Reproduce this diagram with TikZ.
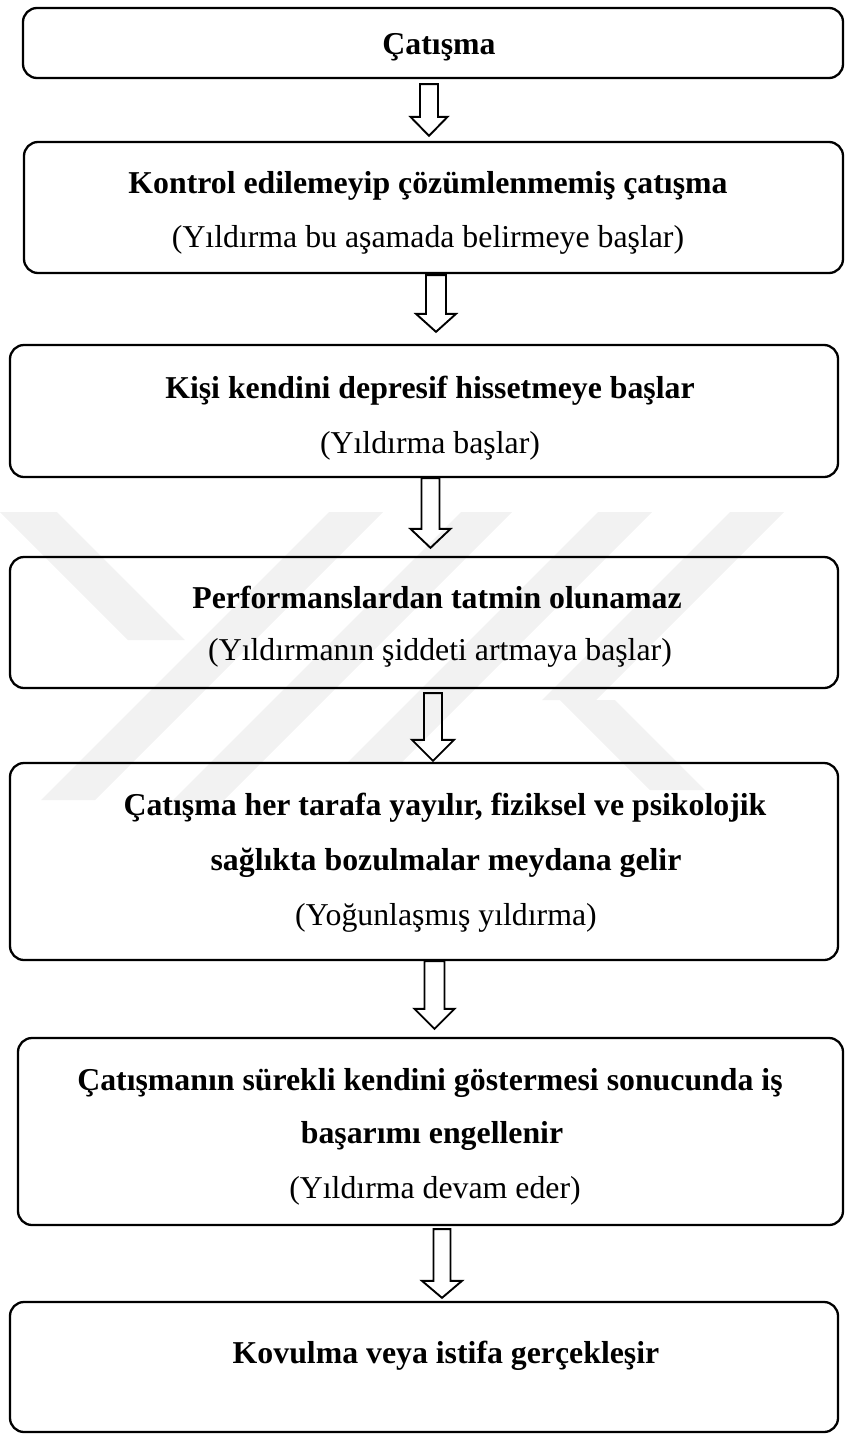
\documentclass[tikz,border=0pt]{standalone}
\usepackage{fontspec}
\setmainfont{Liberation Serif}
\usetikzlibrary{calc}
\tikzset{
  flowbox/.style={draw=black, line width=2.3pt, rounded corners=14pt, inner sep=0pt},
  boldline/.style={anchor=base, inner sep=0pt, font=\fontsize{31.8}{38}\selectfont\bfseries},
  plainline/.style={anchor=base, inner sep=0pt, font=\fontsize{31.8}{38}\selectfont},
  hollowarrow/.style={draw=black, line width=1.9pt, line join=miter},
  wmark/.style={fill=black!5, draw=none}
}
% #1 from node, #2 to node, #3 centre x, #4 gap below #1, #5 gap above #2,
% #6 shaft half width, #7 head half width, #8 head height
\newcommand\flowarrow[8]{%
  \draw[hollowarrow] let \p1=(#1.south), \p2=(#2.north) in
    ({#3pt-#6pt},{\y1-#4pt}) -- ({#3pt-#6pt},{\y2+#5pt+#8pt})
    -- ({#3pt-#7pt},{\y2+#5pt+#8pt}) -- ({#3pt},{\y2+#5pt})
    -- ({#3pt+#7pt},{\y2+#5pt+#8pt}) -- ({#3pt+#6pt},{\y2+#5pt+#8pt})
    -- ({#3pt+#6pt},{\y1-#4pt}) -- cycle;}
\begin{document}
\begin{tikzpicture}[x=1pt,y=-1pt]
\useasboundingbox (0,0) rectangle (845,1435);
% faint background watermark
\fill[wmark] (0,512) -- (57,512) -- (185,640) -- (128,640) -- cycle;
\fill[wmark] (329,512) -- (383,512) -- (95,800) -- (41,800) -- cycle;
\fill[wmark] (461,512) -- (512,512) -- (224,800) -- (173,800) -- cycle;
\fill[wmark] (598,512) -- (652,512) -- (401,763) -- (347,763) -- cycle;
\fill[wmark] (730,512) -- (784,512) -- (596,700) -- (542,700) -- cycle;
\fill[wmark] (560,700) -- (615,700) -- (705,790) -- (650,790) -- cycle;
% boxes
\node[flowbox, minimum width=820pt, minimum height=70pt]  (b1) at (433,43) {};
\node[flowbox, minimum width=819pt, minimum height=131pt] (b2) at (433.5,207.5) {};
\node[flowbox, minimum width=828pt, minimum height=132pt] (b3) at (424,411) {};
\node[flowbox, minimum width=828pt, minimum height=131pt] (b4) at (424,622.5) {};
\node[flowbox, minimum width=828pt, minimum height=197pt] (b5) at (424,861.5) {};
\node[flowbox, minimum width=825pt, minimum height=187pt] (b6) at (430.5,1131.5) {};
\node[flowbox, minimum width=828pt, minimum height=130pt] (b7) at (424,1367) {};
% texts
\node[boldline]  (t1)  at (439,54)   {Çatışma};
\node[boldline]  (t2a) at (428,193)  {Kontrol edilemeyip çözümlenmemiş çatışma};
\node[plainline] (t2b) at (428,247)  {(Yıldırma bu aşamada belirmeye başlar)};
\node[boldline]  (t3a) at (430,398)  {Kişi kendini depresif hissetmeye başlar};
\node[plainline] (t3b) at (430,453)  {(Yıldırma başlar)};
\node[boldline]  (t4a) at (437,608)  {Performanslardan tatmin olunamaz};
\node[plainline] (t4b) at (440,660)  {(Yıldırmanın şiddeti artmaya başlar)};
\node[boldline]  (t5a) at (445,815)  {Çatışma her tarafa yayılır, fiziksel ve psikolojik};
\node[boldline]  (t5b) at (446,870)  {sağlıkta bozulmalar meydana gelir};
\node[plainline] (t5c) at (446,925)  {(Yoğunlaşmış yıldırma)};
\node[boldline]  (t6a) at (430,1090) {Çatışmanın sürekli kendini göstermesi sonucunda iş};
\node[boldline]  (t6b) at (432,1143) {başarımı engellenir};
\node[plainline] (t6c) at (435,1198) {(Yıldırma devam eder)};
\node[boldline]  (t7)  at (446,1363) {Kovulma veya istifa gerçekleşir};
% hollow block arrows
\flowarrow{b1}{b2}{429}{5}{5}{9}{18.5}{19}
\flowarrow{b2}{b3}{436}{1}{12}{10}{20}{18}
\flowarrow{b3}{b4}{430.5}{0}{8}{9}{20}{19}
\flowarrow{b4}{b5}{433}{4}{1}{9}{21}{21}
\flowarrow{b5}{b6}{434.5}{0}{8}{10}{20}{20}
\flowarrow{b6}{b7}{442}{3}{3}{8.5}{20}{17}
\end{tikzpicture}
\end{document}
